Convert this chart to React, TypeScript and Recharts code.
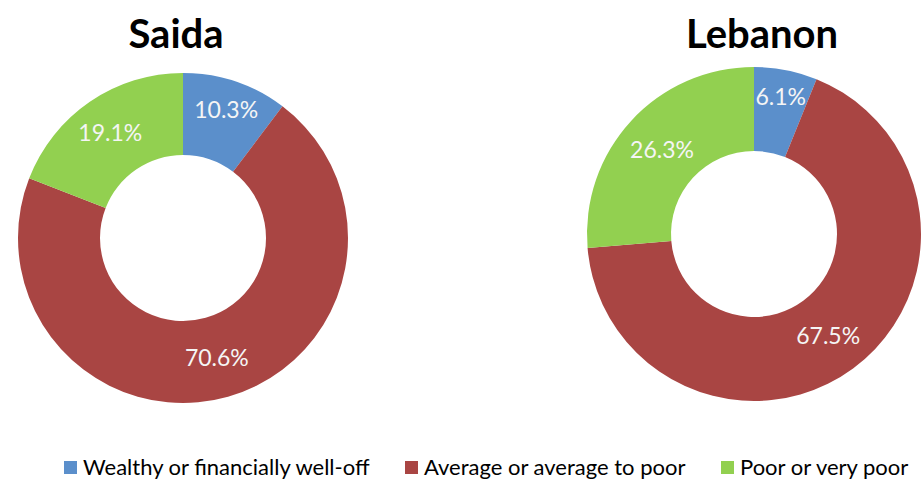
import { PieChart, Pie, Cell } from "recharts";

const categories = [
  "Wealthy or financially well-off",
  "Average or average to poor",
  "Poor or very poor",
];
const colors = ["#5B8FCB", "#A94543", "#92D050"];

const saidaValues = [10.3, 70.6, 19.1];
const lebanonValues = [6.1, 67.5, 26.3];

const toRows = (values: number[]) =>
  categories.map((name, i) => ({ name, value: values[i] }));

const FONT = "Lato, 'Open Sans', sans-serif";
const RAD = Math.PI / 180;
// left edge of each legend entry (swatch)
const legendX = [64, 405, 721];

function RingLabel(props: any) {
  const { cx, cy, midAngle, innerRadius, outerRadius, value } = props;
  // small slices push their label a bit outward, like Excel does
  const r = (innerRadius + outerRadius) / 2 + Math.max(0, 25 - value) * 0.8;
  const x = cx + r * Math.cos(-midAngle * RAD);
  const y = cy + r * Math.sin(-midAngle * RAD);
  return (
    <text
      x={x}
      y={y}
      fill="#F5F5F5"
      fontSize={23}
      fontFamily={FONT}
      textAnchor="middle"
      dominantBaseline="central"
    >
      {value.toFixed(1)}%
    </text>
  );
}

function Legend() {
  return (
    <>
      {categories.map((c, i) => (
        <div
          key={c}
          style={{
            position: "absolute",
            top: 454,
            left: legendX[i],
            display: "flex",
            alignItems: "center",
            fontFamily: FONT,
            fontSize: 22,
            lineHeight: "26px",
            color: "#000",
            whiteSpace: "nowrap",
          }}
        >
          <span
            style={{
              width: 13,
              height: 13,
              background: colors[i],
              marginRight: 6,
              display: "inline-block",
            }}
          />
          {c}
        </div>
      ))}
    </>
  );
}

const titleStyle = (left: number): React.CSSProperties => ({
  position: "absolute",
  top: 8,
  left,
  width: 200,
  textAlign: "center",
  fontFamily: FONT,
  fontWeight: 700,
  fontSize: 40,
  lineHeight: "50px",
  color: "#000",
});

export default function App() {
  return (
    <div
      style={{
        position: "fixed",
        left: 0,
        top: 0,
        width: 923,
        height: 480,
        background: "#fff",
        overflow: "hidden",
      }}
    >
      <PieChart
        width={923}
        height={480}
        margin={{ top: 0, right: 0, bottom: 0, left: 0 }}
      >
        <Pie
          data={toRows(saidaValues)}
          dataKey="value"
          cx={183}
          cy={238}
          innerRadius={83}
          outerRadius={165}
          startAngle={90}
          endAngle={-270}
          stroke="none"
          labelLine={false}
          label={RingLabel}
          isAnimationActive={false}
        >
          {saidaValues.map((_, i) => (
            <Cell key={i} fill={colors[i]} />
          ))}
        </Pie>
        <Pie
          data={toRows(lebanonValues)}
          dataKey="value"
          cx={754}
          cy={234}
          innerRadius={83}
          outerRadius={167}
          startAngle={90}
          endAngle={-270}
          stroke="none"
          labelLine={false}
          label={RingLabel}
          isAnimationActive={false}
        >
          {lebanonValues.map((_, i) => (
            <Cell key={i} fill={colors[i]} />
          ))}
        </Pie>
      </PieChart>
      <div style={titleStyle(76)}>Saida</div>
      <div style={titleStyle(662)}>Lebanon</div>
      <Legend />
    </div>
  );
}
